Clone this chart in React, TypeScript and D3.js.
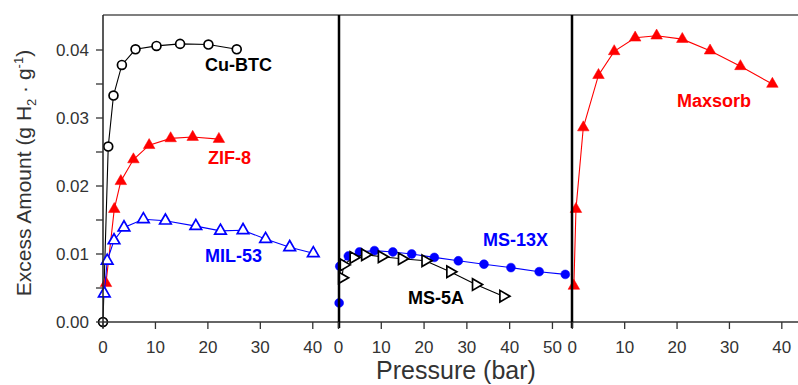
import * as d3 from "d3";

// left panel: MOFs
const cuBtcP = [0, 1.0, 2.0, 3.6, 6.2, 10.2, 14.7, 20.1, 25.5];
const cuBtcV = [0, 0.0258, 0.0333, 0.0378, 0.0401, 0.0406, 0.0409, 0.0408, 0.0401];
const zif8P = [0.57, 2.15, 3.4, 5.8, 8.8, 12.9, 17.1, 22.1];
const zif8V = [0.0057, 0.0166, 0.0207, 0.0239, 0.026, 0.027, 0.0272, 0.0269];
const mil53P = [0.25, 0.8, 2.1, 4.0, 7.7, 11.9, 17.7, 22.4, 26.7, 31.0, 35.6, 40.1];
const mil53V = [0.0042, 0.009, 0.012, 0.0139, 0.0151, 0.0149, 0.0141, 0.0134, 0.0135, 0.0122, 0.011, 0.0101];

// middle panel: zeolites
const ms13xP = [0.15, 0.3, 2.3, 4.9, 8.4, 12.7, 17.1, 22.4, 28.0, 34.0, 40.3, 46.9, 53.0];
const ms13xV = [0.0028, 0.0082, 0.0097, 0.0103, 0.0105, 0.0103, 0.01, 0.0095, 0.009, 0.0085, 0.008, 0.0074, 0.007];
const ms5aP = [0.8, 1.2, 3.5, 6.2, 10.1, 14.8, 20.3, 26.1, 32.1, 38.5];
const ms5aV = [0.0065, 0.0084, 0.0095, 0.0099, 0.0096, 0.0093, 0.009, 0.0074, 0.0055, 0.0038];

// right panel: activated carbon
const maxsorbP = [0.3, 0.7, 2.1, 5.0, 8.0, 12.0, 16.1, 21.0, 26.3, 32.1, 38.2];
const maxsorbV = [0.0053, 0.0166, 0.0286, 0.0363, 0.0398, 0.0418, 0.0421, 0.0416, 0.0399, 0.0376, 0.035];

const yTicks = [0, 0.005, 0.01, 0.015, 0.02, 0.025, 0.03, 0.035, 0.04];
const yLabels = [0, 0.01, 0.02, 0.03, 0.04];
const xTicks = [
  [0, 10, 20, 30, 40],
  [0, 10, 20, 30, 40, 50],
  [0, 10, 20, 30, 40],
];

const FONT = "'Liberation Sans', Arial, sans-serif";
const W = 798;
const H = 385;
const top = 16;
const bottom = 322;

const panels = [
  { x0: 103, x1: 339, max: 45 },
  { x0: 338.5, x1: 571.7, max: 54.5 },
  { x0: 572.3, x1: 797, max: 42.9 },
];

type Series = {
  p: number[];
  v: number[];
  panel: number;
  color: string;
  marker: "circle" | "triUp" | "triRight";
  filled: boolean;
};

const series: Series[] = [
  { p: cuBtcP, v: cuBtcV, panel: 0, color: "#000", marker: "circle", filled: false },
  { p: zif8P, v: zif8V, panel: 0, color: "#ff0000", marker: "triUp", filled: true },
  { p: mil53P, v: mil53V, panel: 0, color: "#0000ff", marker: "triUp", filled: false },
  { p: ms13xP, v: ms13xV, panel: 1, color: "#0000ff", marker: "circle", filled: true },
  { p: ms5aP, v: ms5aV, panel: 1, color: "#000", marker: "triRight", filled: false },
  { p: maxsorbP, v: maxsorbV, panel: 2, color: "#ff0000", marker: "triUp", filled: true },
];

const labels = [
  { text: "Cu-BTC", x: 205, y: 71, color: "#000" },
  { text: "ZIF-8", x: 208, y: 164, color: "#ff0000" },
  { text: "MIL-53", x: 205, y: 262, color: "#0000ff" },
  { text: "MS-13X", x: 483, y: 246, color: "#0000ff" },
  { text: "MS-5A", x: 408, y: 304, color: "#000" },
  { text: "Maxsorb", x: 677, y: 107, color: "#ff0000" },
];

export default function App() {
  const y = d3.scaleLinear().domain([0, 0.045]).range([bottom, top]);
  const xs = panels.map((pn) => d3.scaleLinear().domain([0, pn.max]).range([pn.x0, pn.x1]));

  const symbolPath = (m: Series["marker"]) => {
    if (m === "circle") return d3.symbol(d3.symbolCircle, 62)()!;
    return d3.symbol(d3.symbolTriangle, 58)()!;
  };

  return (
    <svg width={W} height={H} style={{ position: "absolute", left: 0, top: 0 }} fontFamily={FONT}>
      <rect width={W} height={H} fill="#fff" />
      <defs>
        {panels.map((pn, i) => (
          <clipPath id={`clip${i}`} key={i}>
            <rect x={pn.x0 - 6} y={top - 6} width={pn.x1 - pn.x0 + 12} height={bottom - top + 12} />
          </clipPath>
        ))}
      </defs>

      {/* series */}
      {series.map((s, si) => {
        const x = xs[s.panel];
        const pts: [number, number][] = s.p.map((p, i) => [x(p), y(s.v[i])]);
        const line = d3.line()(pts)!;
        const sym = symbolPath(s.marker);
        const rot = s.marker === "triRight" ? 90 : 0;
        return (
          <g key={si} clipPath={`url(#clip${s.panel})`}>
            <path d={line} fill="none" stroke={s.color} strokeWidth={1.1} />
            {pts.map(([px, py], i) => (
              <path
                key={i}
                d={sym}
                transform={`translate(${px},${py}) rotate(${rot})`}
                fill={s.filled ? s.color : "#fff"}
                stroke={s.color}
                strokeWidth={s.filled ? 0.5 : 1.7}
              />
            ))}
          </g>
        );
      })}

      {/* frame */}
      <line x1={103} x2={W} y1={top - 1} y2={top - 1} stroke="#555" strokeWidth={1.5} />
      <line x1={103} x2={W} y1={bottom} y2={bottom} stroke="#333" strokeWidth={1.5} />
      <line x1={103} x2={103} y1={top - 1} y2={bottom + 6} stroke="#222" strokeWidth={1.5} />
      <line x1={339} x2={339} y1={top - 1} y2={bottom + 6} stroke="#000" strokeWidth={2.5} />
      <line x1={572} x2={572} y1={top - 1} y2={bottom + 6} stroke="#000" strokeWidth={2.5} />

      {/* y axis */}
      {yTicks.map((t) => (
        <line key={t} x1={96} x2={103} y1={y(t)} y2={y(t)} stroke="#333" strokeWidth={1.3} />
      ))}
      {yLabels.map((t) => (
        <text key={t} x={89} y={y(t)} dy="0.36em" textAnchor="end" fontSize={17} fill="#333">
          {d3.format(".2f")(t)}
        </text>
      ))}

      {/* x axes */}
      {xTicks.map((ticks, pi) =>
        ticks.map((t) => (
          <g key={`${pi}-${t}`}>
            <line x1={xs[pi](t)} x2={xs[pi](t)} y1={bottom} y2={bottom + 7} stroke="#333" strokeWidth={1.3} />
            <text x={xs[pi](t)} y={353} textAnchor="middle" fontSize={17} fill="#333">
              {t}
            </text>
          </g>
        ))
      )}

      {/* series labels */}
      {labels.map((l) => (
        <text key={l.text} x={l.x} y={l.y} fontSize={18} fontWeight="bold" fill={l.color}>
          {l.text}
        </text>
      ))}

      {/* axis titles */}
      <text x={456} y={379} textAnchor="middle" fontSize={25} fill="#333">
        Pressure (bar)
      </text>
      <text transform="translate(31,173) rotate(-90)" textAnchor="middle" fontSize={21} fill="#333">
        Excess Amount (g H
        <tspan fontSize={13} dy={5}>2</tspan>
        <tspan dy={-5}> · g</tspan>
        <tspan fontSize={13} dy={-8}>-1</tspan>
        <tspan dy={8}>)</tspan>
      </text>
    </svg>
  );
}
